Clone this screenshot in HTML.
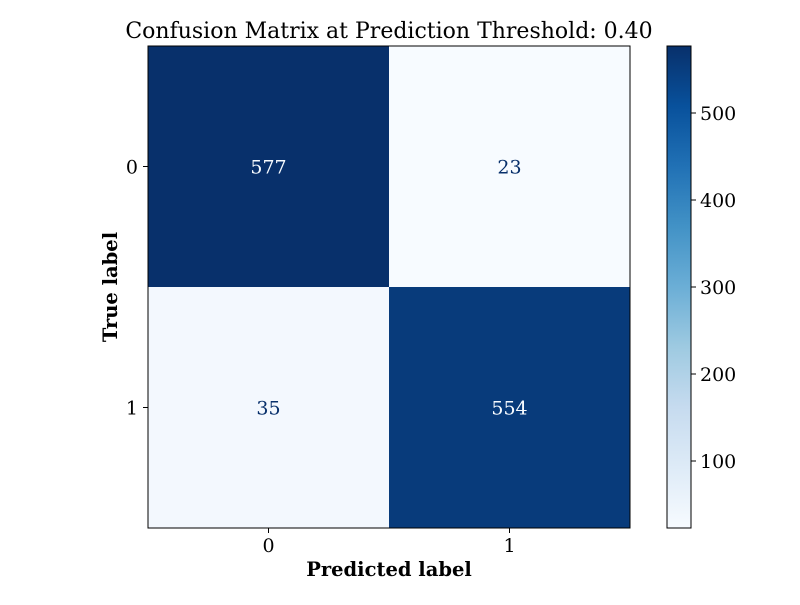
<!DOCTYPE html>
<html><head><meta charset="utf-8"><style>
body{margin:0;background:#fff;}
svg text{font-family:"DejaVu Serif","Liberation Serif",serif;}
</style></head><body>
<svg id="chart" width="800" height="600" xmlns="http://www.w3.org/2000/svg">
<defs><linearGradient id="cbgrad" x1="0" y1="1" x2="0" y2="0">
<stop offset="0" stop-color="#f7fbff"/><stop offset="0.125" stop-color="#deebf7"/><stop offset="0.25" stop-color="#c6dbef"/><stop offset="0.375" stop-color="#9ecae1"/><stop offset="0.5" stop-color="#6baed6"/><stop offset="0.625" stop-color="#4292c6"/><stop offset="0.75" stop-color="#2171b5"/><stop offset="0.875" stop-color="#08519c"/><stop offset="1" stop-color="#08306b"/>
</linearGradient></defs>
<text x="389" y="38" font-size="22" text-anchor="middle">Confusion Matrix at Prediction Threshold: 0.40</text>
<g id="cells"></g>
<rect x="148" y="46" width="482" height="482" fill="none" stroke="#000" stroke-width="1"/>
<g id="axes"></g>
<text x="389" y="576" font-size="19.5" font-weight="bold" text-anchor="middle">Predicted label</text>
<text x="0" y="0" font-size="19.5" font-weight="bold" text-anchor="middle" transform="translate(117,287) rotate(-90)">True label</text>
<rect x="667" y="46" width="24" height="482" fill="url(#cbgrad)" stroke="#000" stroke-width="1"/>
<g id="cbticks"></g>
</svg>
<script>
const classLabels=["0","1"];
const matrixValues=[[577,23],[35,554]];
const colorbarTicks=[100,200,300,400,500];
const NS="http://www.w3.org/2000/svg";
const stops=[[0,[247,251,255]],[0.125,[222,235,247]],[0.25,[198,219,239]],[0.375,[158,202,225]],[0.5,[107,174,214]],[0.625,[66,146,198]],[0.75,[33,113,181]],[0.875,[8,81,156]],[1,[8,48,107]]];
function cmap(t){t=Math.max(0,Math.min(1,t));for(let i=1;i<stops.length;i++){if(t<=stops[i][0]){const a=stops[i-1],b=stops[i];const f=(t-a[0])/(b[0]-a[0]);return "rgb("+a[1].map((v,k)=>Math.round(v+(b[1][k]-v)*f)).join(",")+")";}}return "rgb(8,48,107)";}
const flat=matrixValues.flat();const vmin=Math.min(...flat),vmax=Math.max(...flat);
const X0=148,Y0=46,S=482,n=classLabels.length,cs=S/n;
const xScale=i=>X0+i*cs, yScale=i=>Y0+i*cs;
const cbY=v=>528-(v-vmin)/(vmax-vmin)*482;
function mk(tag,attrs,parent,txt){const e=document.createElementNS(NS,tag);for(const k in attrs)e.setAttribute(k,attrs[k]);if(txt!==undefined)e.textContent=txt;parent.appendChild(e);return e;}
const cells=document.getElementById("cells"),axes=document.getElementById("axes"),cbt=document.getElementById("cbticks");
const mid=(vmin+vmax)/2;
matrixValues.forEach((row,r)=>row.forEach((v,c)=>{
 const t=(v-vmin)/(vmax-vmin);
 const rc=mk("rect",{x:xScale(c),y:yScale(r),width:cs,height:cs,fill:cmap(t)},cells);
 
 
 const tx=mk("text",{x:xScale(c)+cs/2,y:yScale(r)+cs/2+7,"font-size":19,"text-anchor":"middle",fill:v>=mid?"#f7fbff":"#08306b"},cells,String(v));
 
 
}));
classLabels.forEach((l,i)=>{
 const cx=xScale(i)+cs/2;
 mk("line",{x1:cx,x2:cx,y1:528,y2:533,stroke:"#000"},axes);
 const xt=mk("text",{x:cx,y:552,"font-size":19,"text-anchor":"middle"},axes,l);
 
 
 const cy=yScale(i)+cs/2;
 mk("line",{x1:143,x2:148,y1:cy,y2:cy,stroke:"#000"},axes);
 const yt=mk("text",{x:138,y:cy+7,"font-size":19,"text-anchor":"end"},axes,l);
 
 
});
colorbarTicks.forEach(v=>{
 const y=cbY(v);
 mk("line",{x1:691,x2:696,y1:y,y2:y,stroke:"#000"},cbt);
 const t=mk("text",{x:700,y:y+7,"font-size":19},cbt,String(v));
 
 
});
</script>
</body></html>
